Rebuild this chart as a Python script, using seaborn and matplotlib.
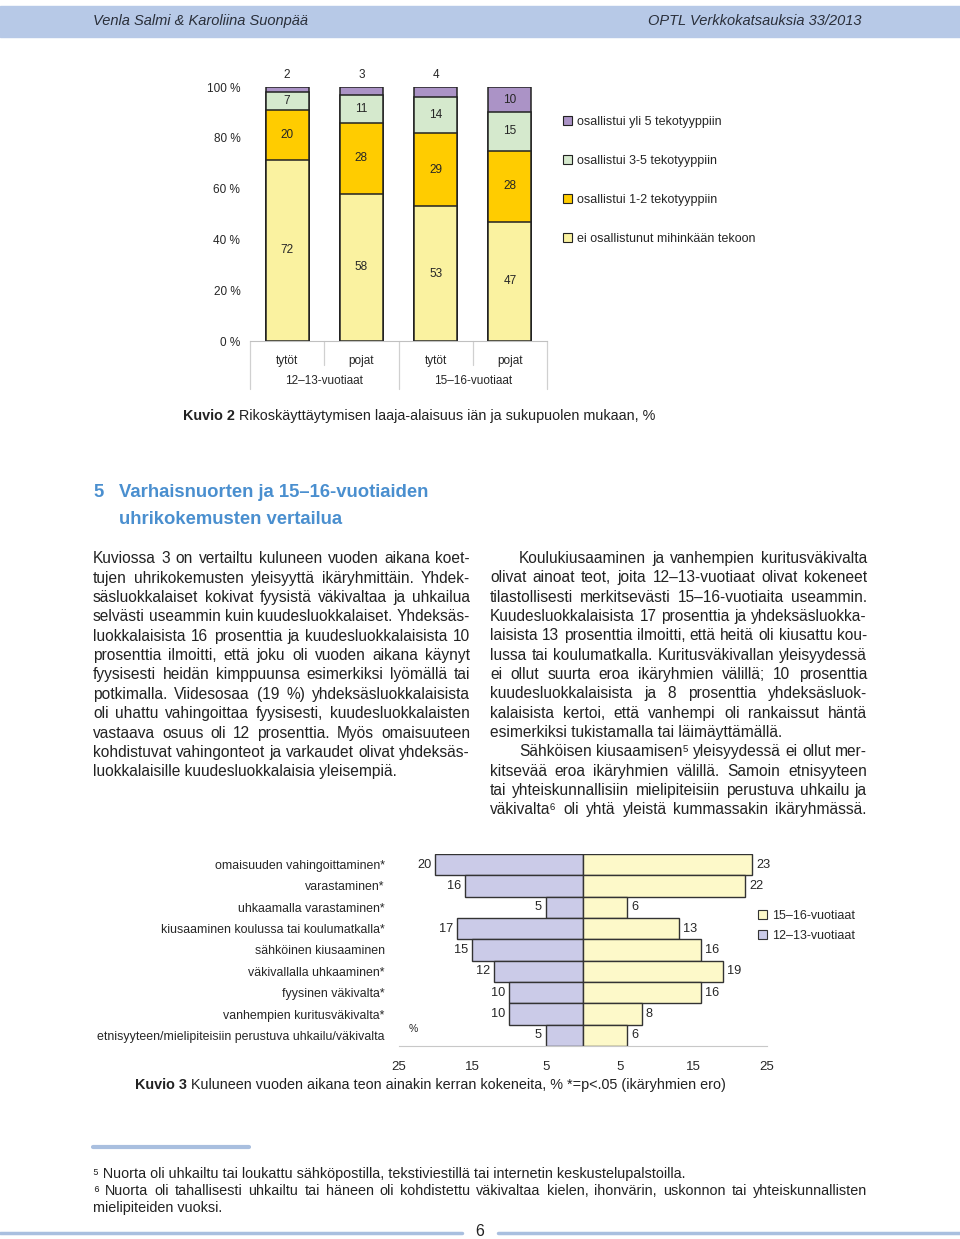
import seaborn as sns
import pandas as pd
import matplotlib
matplotlib.use('Agg')
import matplotlib.pyplot as plt
from matplotlib.patches import Patch, Rectangle
from matplotlib.lines import Line2D

# Kuvio 2: rikoskayttaytymisen laaja-alaisuus
ryhmat = ['12–13-vuotiaat', '12–13-vuotiaat', '15–16-vuotiaat', '15–16-vuotiaat']
sukupuoli = ['tytöt', 'pojat', 'tytöt', 'pojat']
ei_osallistunut = [72, 58, 53, 47]
tekotyyppi_1_2 = [20, 28, 29, 28]
tekotyyppi_3_5 = [7, 11, 14, 15]
yli_5 = [2, 3, 4, 10]
kerros_nimet = ['ei osallistunut mihinkään tekoon', 'osallistui 1-2 tekotyyppiin',
                'osallistui 3-5 tekotyyppiin', 'osallistui yli 5 tekotyyppiin']
kerros_varit = ['#faf2a0', '#ffcc00', '#d5e9cd', '#ab93c6']

# Kuvio 3: uhrikokemukset ikaryhmittain
teot = ['omaisuuden vahingoittaminen*', 'varastaminen*', 'uhkaamalla varastaminen*',
        'kiusaaminen koulussa tai koulumatkalla*', 'sähköinen kiusaaminen',
        'väkivallalla uhkaaminen*', 'fyysinen väkivalta*', 'vanhempien kuritusväkivalta*',
        'etnisyyteen/mielipiteisiin perustuva uhkailu/väkivalta']
v12_13 = [20, 16, 5, 17, 15, 12, 10, 10, 5]
v15_16 = [23, 22, 6, 13, 16, 19, 16, 8, 6]
ika_varit = {'12–13-vuotiaat': '#cbcbe8', '15–16-vuotiaat': '#fdf9c9'}

vasen_teksti = [
    'Kuviossa 3 on vertailtu kuluneen vuoden aikana koet-',
    'tujen uhrikokemusten yleisyyttä ikäryhmittäin. Yhdek-',
    'säsluokkalaiset kokivat fyysistä väkivaltaa ja uhkailua',
    'selvästi useammin kuin kuudesluokkalaiset. Yhdeksäs-',
    'luokkalaisista 16 prosenttia ja kuudesluokkalaisista 10',
    'prosenttia ilmoitti, että joku oli vuoden aikana käynyt',
    'fyysisesti heidän kimppuunsa esimerkiksi lyömällä tai',
    'potkimalla. Viidesosaa (19 %) yhdeksäsluokkalaisista',
    'oli uhattu vahingoittaa fyysisesti, kuudesluokkalaisten',
    'vastaava osuus oli 12 prosenttia. Myös omaisuuteen',
    'kohdistuvat vahingonteot ja varkaudet olivat yhdeksäs-',
    'luokkalaisille kuudesluokkalaisia yleisempiä.',
]
oikea_teksti = [
    'Koulukiusaaminen ja vanhempien kuritusväkivalta',
    'olivat ainoat teot, joita 12–13-vuotiaat olivat kokeneet',
    'tilastollisesti merkitsevästi 15–16-vuotiaita useammin.',
    'Kuudesluokkalaisista 17 prosenttia ja yhdeksäsluokka-',
    'laisista 13 prosenttia ilmoitti, että heitä oli kiusattu kou-',
    'lussa tai koulumatkalla. Kuritusväkivallan yleisyydessä',
    'ei ollut suurta eroa ikäryhmien välillä; 10 prosenttia',
    'kuudesluokkalaisista ja 8 prosenttia yhdeksäsluok-',
    'kalaisista kertoi, että vanhempi oli rankaissut häntä',
    'esimerkiksi tukistamalla tai läimäyttämällä.',
    'Sähköisen kiusaamisen⁵ yleisyydessä ei ollut mer-',
    'kitsevää eroa ikäryhmien välillä. Samoin etnisyyteen',
    'tai yhteiskunnallisiin mielipiteisiin perustuva uhkailu ja',
    'väkivalta⁶ oli yhtä yleistä kummassakin ikäryhmässä.',
]

sns.set_style('white')
plt.rcParams['font.family'] = ['Liberation Sans', 'DejaVu Sans']
NARROW = ['Liberation Sans Narrow', 'Liberation Sans', 'DejaVu Sans']

W, H = 960, 1239
fig = plt.figure(figsize=(W / 100, H / 100), dpi=100)
renderer = fig.canvas.get_renderer()
TEKSTI = '#222222'
LEIPA = 11.2


def teksti(x, y, s, **kw):
    kw.setdefault('va', 'center')
    return fig.text(x / W, 1 - y / H, s, **kw)


def rivi_teksti(x, y, s, **kw):
    # body text: place on a baseline so words line up
    return teksti(x, y + 5, s, va='baseline', **kw)


def leveys(t):
    return t.get_window_extent(renderer).width


def tasaa(x0, x1, y, rivi, **kw):
    sanat = rivi.split(' ')
    osat = [rivi_teksti(x0, y, s, **kw) for s in sanat]
    lev = [leveys(t) for t in osat]
    rako = (x1 - x0 - sum(lev)) / max(len(sanat) - 1, 1)
    x = x0
    for t, w in zip(osat, lev):
        t.set_x(x / W)
        x += w + rako


def kuvateksti(x, y, alku, loppu, koko=10.4):
    t = rivi_teksti(x, y, alku, fontweight='bold', fontsize=koko, color=TEKSTI)
    rivi_teksti(x + leveys(t) + 4, y, loppu, fontsize=koko, color=TEKSTI)


# header band
fig.patches.append(Rectangle((0, 1 - 37 / H), 1, 31 / H, transform=fig.transFigure,
                             color='#b7c9e7', zorder=0))
teksti(93, 21, 'Venla Salmi & Karoliina Suonpää', fontstyle='italic', fontsize=10.5, color='#2a2f3a')
teksti(862, 21, 'OPTL Verkkokatsauksia 33/2013', fontstyle='italic', fontsize=10.5,
       color='#2a2f3a', ha='right')

# ---------- Kuvio 2 ----------
ax1 = fig.add_axes([250 / W, 1 - 341 / H, 297 / W, 254 / H])
avaimet = [f'{r} {s}' for r, s in zip(ryhmat, sukupuoli)]
kerrokset = [ei_osallistunut, tekotyyppi_1_2, tekotyyppi_3_5, yli_5]
summat = [sum(k[i] for k in kerrokset) for i in range(4)]
osuudet = [[v / s * 100 for v, s in zip(k, summat)] for k in kerrokset]
kertyma = []
acc = [0] * 4
for k in osuudet:
    acc = [a + v for a, v in zip(acc, k)]
    kertyma.append(acc)

for j in reversed(range(4)):
    sns.barplot(x=avaimet, y=kertyma[j], color=kerros_varit[j], saturation=1, width=0.58,
                edgecolor='#222222', linewidth=1.1, errorbar=None, ax=ax1)

for j in range(4):
    for i in range(4):
        arvo = kerrokset[j][i]
        alaraja = kertyma[j][i] - osuudet[j][i]
        if j == 3 and arvo < 5:
            ax1.annotate(str(arvo), (i, 100), xytext=(0, 4), textcoords='offset points',
                         ha='center', va='bottom', fontsize=8.5)
        else:
            ax1.text(i, alaraja + osuudet[j][i] / 2, str(arvo), ha='center', va='center',
                     fontsize=8.5)

ax1.set_xlim(-0.5, 3.5)
ax1.set_ylim(0, 100)
ax1.set_yticks(range(0, 101, 20))
ax1.set_yticklabels([f'{v} %' for v in range(0, 101, 20)], fontsize=8.5)
ax1.set_xticks(range(4))
ax1.set_xticklabels(sukupuoli, fontsize=8.5)
ax1.set_xlabel('')
for s in ['top', 'right', 'left']:
    ax1.spines[s].set_visible(False)
ax1.spines['bottom'].set_color('#c0c0c0')
ax1.tick_params(axis='x', length=0, pad=10)
ax1.tick_params(axis='y', length=3, color='#c0c0c0', pad=4)
for xb, low in [(-0.5, -0.19), (0.5, -0.095), (1.5, -0.19), (2.5, -0.095), (3.5, -0.19)]:
    ax1.plot([xb, xb], [0, low], color='#d0d0d0', lw=0.9, transform=ax1.get_xaxis_transform(),
             clip_on=False)
for xc, r in [(0.5, ryhmat[0]), (2.5, ryhmat[2])]:
    ax1.text(xc, -0.157, r, ha='center', va='center', fontsize=8.5,
             transform=ax1.get_xaxis_transform())

fig.legend(handles=[Patch(fc=c, ec='#222222', lw=0.8, label=n)
                    for n, c in reversed(list(zip(kerros_nimet, kerros_varit)))],
           loc='upper left', bbox_to_anchor=(563 / W, 1 - 116 / H), frameon=False,
           fontsize=9, handlelength=0.7, handleheight=0.7, handletextpad=0.4,
           labelspacing=2.15, borderpad=0, borderaxespad=0)

kuvateksti(183, 415, 'Kuvio 2', 'Rikoskäyttäytymisen laaja-alaisuus iän ja sukupuolen mukaan, %')

# ---------- text section ----------
otsikko_vari = '#4a8fcf'
for x, y, s in [(93, 491, '5'), (119, 491, 'Varhaisnuorten ja 15–16-vuotiaiden'),
                (119, 518, 'uhrikokemusten vertailua')]:
    rivi_teksti(x, y + 1, s, fontsize=13.3, fontweight='bold', color=otsikko_vari, family=NARROW)

vasen_y = [558, 578, 597, 616, 636, 655, 674, 694, 713, 733, 752, 771]
for i, (y, rivi) in enumerate(zip(vasen_y, vasen_teksti)):
    if i == len(vasen_teksti) - 1:
        rivi_teksti(93, y, rivi, fontsize=LEIPA, color=TEKSTI)
    else:
        tasaa(93, 470, y, rivi, fontsize=LEIPA, color=TEKSTI)

oikea_y = [558, 577, 597, 616, 635, 655, 674, 693, 713, 732, 751, 771, 790, 809]
for i, (y, rivi) in enumerate(zip(oikea_y, oikea_teksti)):
    x0 = 519 if i in (0, 10) else 490
    if i == 9:
        rivi_teksti(x0, y, rivi, fontsize=LEIPA, color=TEKSTI)
    else:
        tasaa(x0, 867, y, rivi, fontsize=LEIPA, color=TEKSTI)

# ---------- Kuvio 3 ----------
ax2 = fig.add_axes([398.5 / W, 1 - 1046 / H, 368.5 / W, 192 / H])
df3 = pd.DataFrame({
    'teko': teot * 2,
    'arvo': [-v for v in v12_13] + v15_16,
    'ika': ['12–13-vuotiaat'] * len(teot) + ['15–16-vuotiaat'] * len(teot),
})
sns.barplot(data=df3, y='teko', x='arvo', hue='ika', palette=ika_varit, dodge=False,
            width=1.0, orient='h', saturation=1, edgecolor='#333333', linewidth=1.0,
            errorbar=None, legend=False, ax=ax2)
for i, (a, b) in enumerate(zip(v12_13, v15_16)):
    ax2.annotate(str(a), (-a, i), xytext=(-3, 0), textcoords='offset points', ha='right',
                 va='center', fontsize=9.2, family=NARROW)
    ax2.annotate(str(b), (b, i), xytext=(3, 0), textcoords='offset points', ha='left',
                 va='center', fontsize=9.2, family=NARROW)
ax2.set_xlim(-25, 25)
ax2.set_xticks([-25, -15, -5, 5, 15, 25])
ax2.set_xticklabels(['25', '15', '5', '5', '15', '25'], fontsize=9.5)
ax2.set_xlabel('')
ax2.set_ylabel('')
for s in ['top', 'right', 'left']:
    ax2.spines[s].set_visible(False)
ax2.spines['bottom'].set_color('#c8c8c8')
ax2.tick_params(axis='x', direction='inout', length=5, color='#c8c8c8', pad=8)
ax2.tick_params(axis='y', length=0, pad=10)
for lbl in ax2.get_yticklabels():
    lbl.set_family(NARROW)
    lbl.set_fontsize(8.9)
teksti(409, 1029, '%', fontsize=7.5, family=NARROW)

fig.legend(handles=[Patch(fc=ika_varit[k], ec='#333333', lw=0.8, label=k)
                    for k in ['15–16-vuotiaat', '12–13-vuotiaat']],
           loc='upper left', bbox_to_anchor=(758 / W, 1 - 910 / H), frameon=False,
           fontsize=9, handlelength=0.7, handleheight=0.7, handletextpad=0.4,
           labelspacing=0.65, borderpad=0, borderaxespad=0)

kuvateksti(135, 1084, 'Kuvio 3',
           'Kuluneen vuoden aikana teon ainakin kerran kokeneita, % *=p<.05 (ikäryhmien ero)')

# ---------- footnotes ----------
viiva = '#a9bfdf'
fig.add_artist(Line2D([93 / W, 249 / W], [1 - 1147 / H] * 2, color=viiva, lw=3))
rivi_teksti(93, 1173, '⁵ Nuorta oli uhkailtu tai loukattu sähköpostilla, tekstiviestillä tai internetin keskustelupalstoilla.',
            fontsize=10.4, family=NARROW, color=TEKSTI)
tasaa(93, 867, 1190, '⁶ Nuorta oli tahallisesti uhkailtu tai häneen oli kohdistettu väkivaltaa kielen, ihonvärin, uskonnon tai yhteiskunnallisten',
      fontsize=10.4, family=NARROW, color=TEKSTI)
rivi_teksti(93, 1207, 'mielipiteiden vuoksi.', fontsize=10.4, family=NARROW, color=TEKSTI)

fig.add_artist(Line2D([0, 462 / W], [1 - 1233 / H] * 2, color=viiva, lw=2.5))
fig.add_artist(Line2D([498 / W, 1], [1 - 1233 / H] * 2, color=viiva, lw=2.5))
teksti(480, 1231, '6', fontsize=11.5, ha='center', color=TEKSTI)

fig.savefig('out.png', dpi=100)
